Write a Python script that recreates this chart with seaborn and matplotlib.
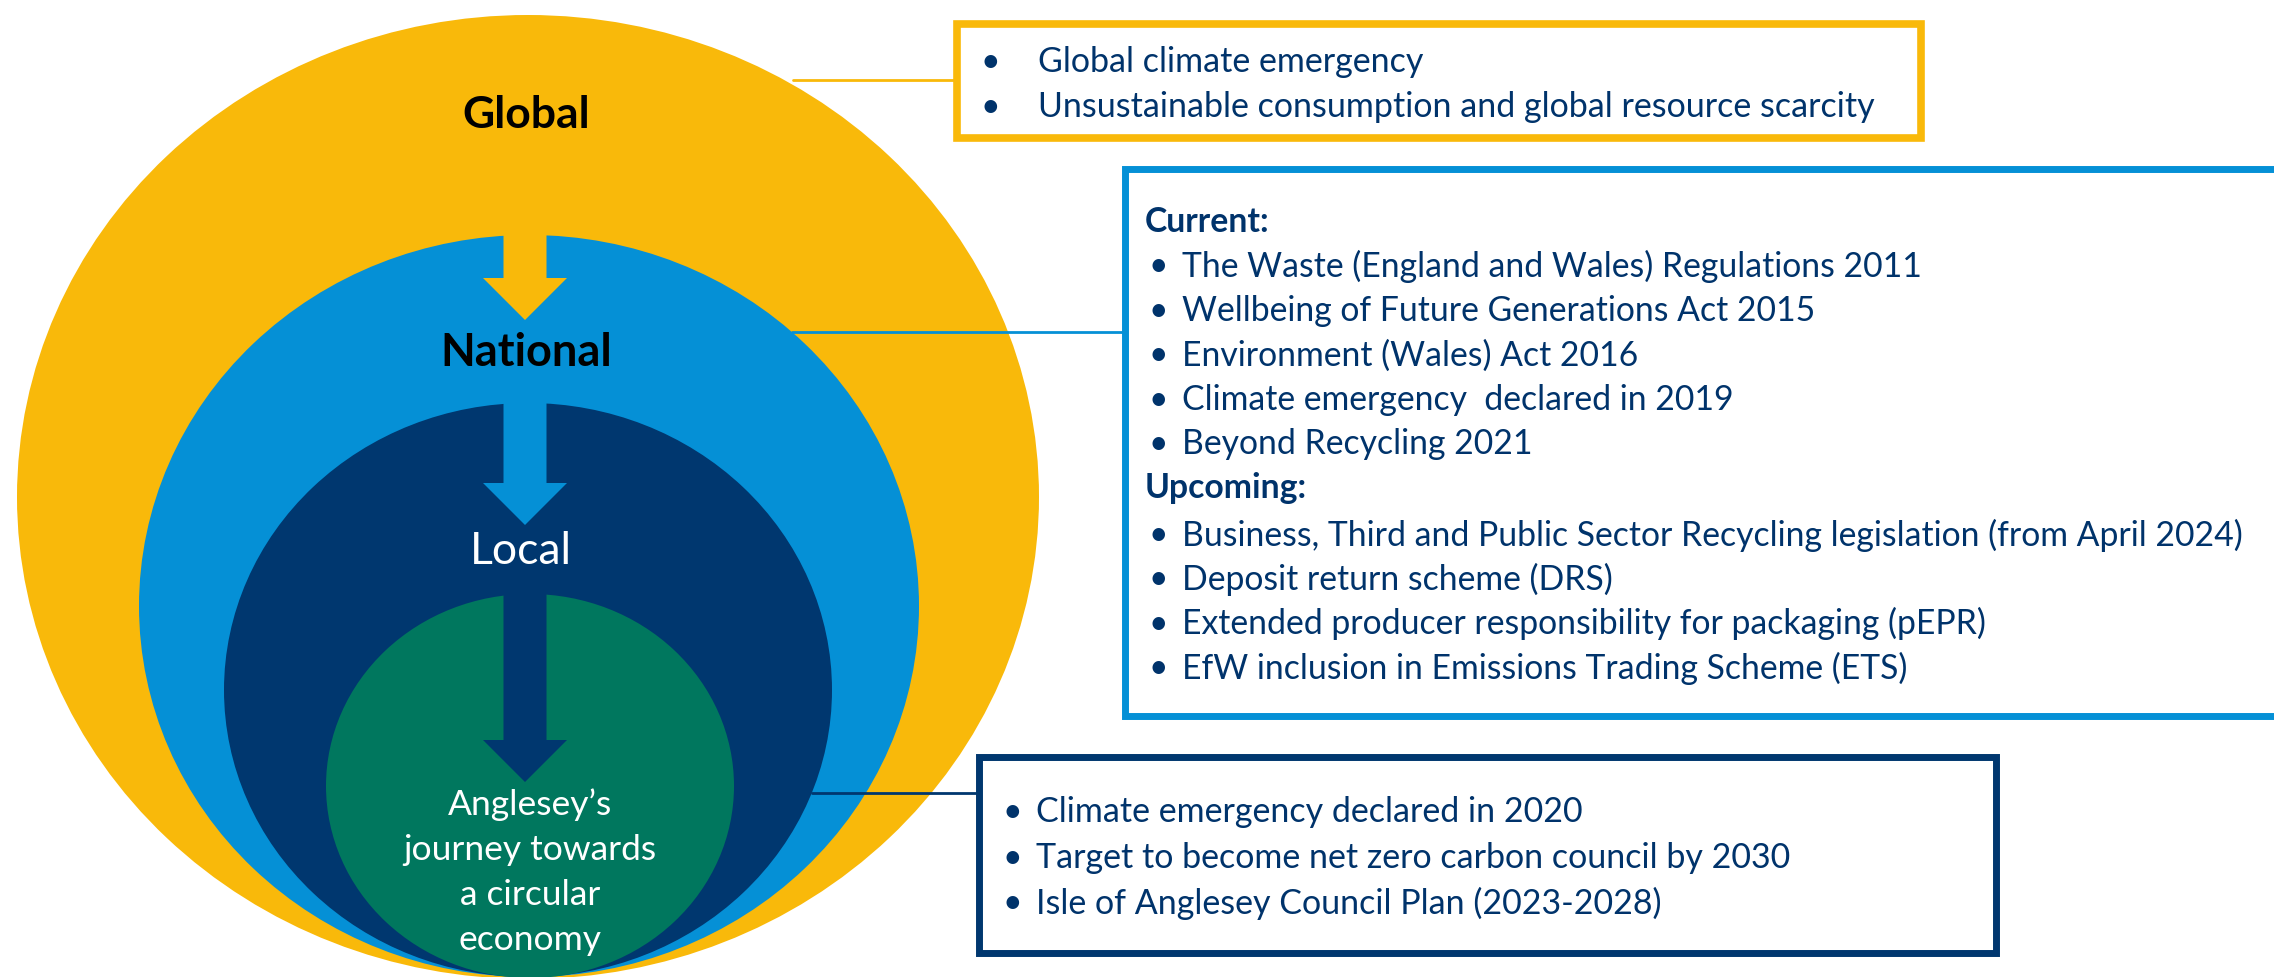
import seaborn as sns
import matplotlib.pyplot as plt
from matplotlib.patches import Ellipse, Rectangle, Polygon

sns.set_style("white")
plt.rcParams['font.family'] = ['Lato', 'DejaVu Sans']

# levels, outermost first
levels = ["Global", "National", "Local", "Anglesey\u2019s\njourney towards\na circular\neconomy"]
level_colours = ["#F9B90A", "#0590D6", "#00376F", "#00775E"]

global_items = ["Global climate emergency",
                "Unsustainable consumption and global resource scarcity"]
current_items = ["The Waste (England and Wales) Regulations 2011",
                 "Wellbeing of Future Generations Act 2015",
                 "Environment (Wales) Act 2016",
                 "Climate emergency  declared in 2019",
                 "Beyond Recycling 2021"]
upcoming_items = ["Business, Third and Public Sector Recycling legislation (from April 2024)",
                  "Deposit return scheme (DRS)",
                  "Extended producer responsibility for packaging (pEPR)",
                  "EfW inclusion in Emissions Trading Scheme (ETS)"]
local_items = ["Climate emergency declared in 2020",
               "Target to become net zero carbon council by 2030",
               "Isle of Anglesey Council Plan (2023-2028)"]

navy_text = "#00336B"

W, H = 2274, 977
fig = plt.figure(figsize=(W / 100, H / 100), dpi=100)
ax = fig.add_axes([0, 0, 1, 1])
ax.set_xlim(0, W)
ax.set_ylim(H, 0)
ax.axis("off")

# nested ellipses (cx, cy, rx, ry)
ell = [(528, 497, 511, 482), (529, 606, 390, 371), (528, 690, 304, 287), (530, 786, 204, 192)]
# arrows: (shaft top, shaft bottom, tip), coloured like the layer they start in
arrows = [(225, 278, 320), (403, 483, 525), (594, 740, 782)]


def arrow(y0, y1, tip, colour, cx=525):
    pts = [(cx - 21.5, y0), (cx + 21.5, y0), (cx + 21.5, y1), (cx + 42, y1),
           (cx, tip), (cx - 42, y1), (cx - 21.5, y1)]
    ax.add_patch(Polygon(pts, closed=True, color=colour, lw=0, zorder=3))


for i, (cx, cy, rx, ry) in enumerate(ell):
    ax.add_patch(Ellipse((cx, cy), 2 * rx, 2 * ry, color=level_colours[i], lw=0, zorder=2))
    if i > 0:
        a = arrows[i - 1]
        arrow(a[0], a[1], a[2], level_colours[i - 1])

ax.text(526, 115, levels[0], ha="center", va="center", fontsize=32, fontweight="bold", color="black", zorder=5)
ax.text(526, 353, levels[1], ha="center", va="center", fontsize=32.5, fontweight="bold", color="black", zorder=5)
ax.text(521, 552, levels[2], ha="center", va="center", fontsize=32, color="white", zorder=5)
for j, line in enumerate(levels[3].split("\n")):
    ax.text(530, 805 + 45 * j, line, ha="center", va="center", fontsize=25.5, color="white", zorder=5)

# connector lines
ax.plot([793, 955], [80, 80], color=level_colours[0], lw=2, zorder=4)
ax.plot([792, 1123], [332, 332], color=level_colours[1], lw=2, zorder=4)
ax.plot([812, 977], [793, 793], color=level_colours[2], lw=2, zorder=4)

# boxes
ax.add_patch(Rectangle((957, 24), 964, 114, fill=True, facecolor="white",
                       edgecolor=level_colours[0], lw=5.5, zorder=4))
ax.add_patch(Rectangle((1125, 169), 1170, 547, fill=True, facecolor="white",
                       edgecolor=level_colours[1], lw=5, zorder=4, clip_on=True))
ax.add_patch(Rectangle((979, 757), 1017, 196, fill=True, facecolor="white",
                       edgecolor=level_colours[2], lw=5, zorder=4))

fs = 24.5
for j, t in enumerate(global_items):
    y = 62 + 45 * j
    ax.text(980, y, "\u2022", ha="left", va="center", fontsize=fs, color=navy_text, zorder=6)
    ax.text(1038, y, t, ha="left", va="center", fontsize=fs, color=navy_text, zorder=6)

fs2 = 24.3
ax.text(1145, 222, "Current:", ha="left", va="center", fontsize=fs2, fontweight="bold", color=navy_text, zorder=6)
for j, t in enumerate(current_items):
    y = 266.5 + 44.4 * j
    ax.text(1148, y, "\u2022", ha="left", va="center", fontsize=fs2, color=navy_text, zorder=6)
    ax.text(1182, y, t, ha="left", va="center", fontsize=fs2, color=navy_text, zorder=6)
ax.text(1145, 488.5, "Upcoming:", ha="left", va="center", fontsize=fs2, fontweight="bold", color=navy_text, zorder=6)
for j, t in enumerate(upcoming_items):
    y = 535 + 44.4 * j
    ax.text(1148, y, "\u2022", ha="left", va="center", fontsize=fs2, color=navy_text, zorder=6)
    ax.text(1182, y, t, ha="left", va="center", fontsize=fs2, color=navy_text, zorder=6)

for j, t in enumerate(local_items):
    y = 812 + 45.5 * j
    ax.text(1003, y, "\u2022", ha="left", va="center", fontsize=fs, color=navy_text, zorder=6)
    ax.text(1036, y, t, ha="left", va="center", fontsize=fs, color=navy_text, zorder=6)

fig.savefig("out.png", dpi=100)
